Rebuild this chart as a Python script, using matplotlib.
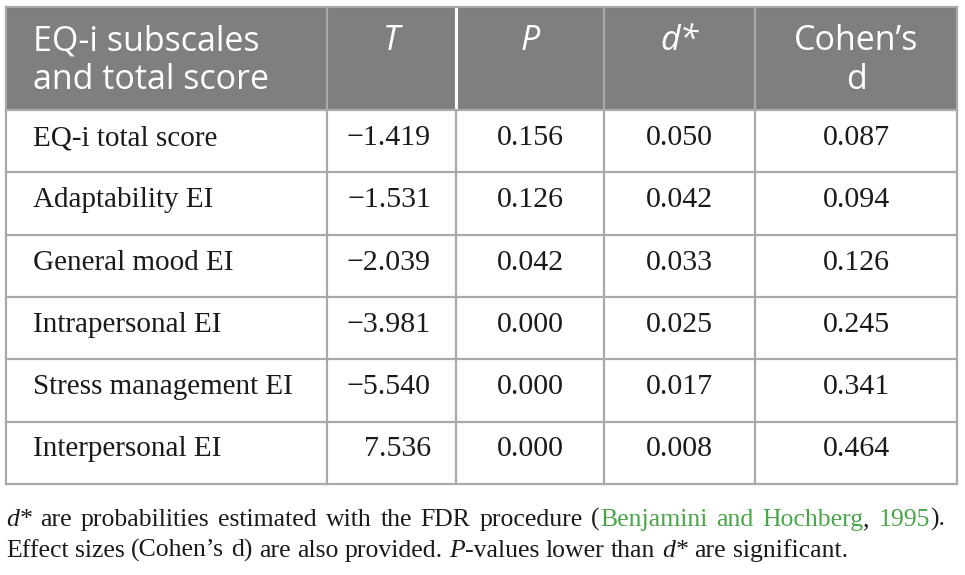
import re
import matplotlib
matplotlib.use("Agg")
import matplotlib.pyplot as plt
from matplotlib.patches import Rectangle

# table content
headers = [["EQ-i subscales", "and total score"], ["T"], ["P"], ["d*"], ["Cohen\u2019s", "d"]]
header_italic = [False, True, True, True, False]
subscales = ["EQ-i total score", "Adaptability EI", "General mood EI",
             "Intrapersonal EI", "Stress management EI", "Interpersonal EI"]
t_vals = [-1.419, -1.531, -2.039, -3.981, -5.540, 7.536]
p_vals = [0.156, 0.126, 0.042, 0.000, 0.000, 0.000]
d_star = [0.050, 0.042, 0.033, 0.025, 0.017, 0.008]
cohen_d = [0.087, 0.094, 0.126, 0.245, 0.341, 0.464]

# layout in pixels
W, H = 965, 575
col_x = [6, 327, 456, 604, 755, 957]
head_top, head_bot = 7, 110
row_h = 62.3
n_rows = len(subscales)

HEAD_BG = "#7f7f7f"
GRID = "#a9a9a9"
GREEN = "#4aa54a"
INK = "#1a1a1a"
SANS = ["Open Sans", "DejaVu Sans"]
SERIF = ["Liberation Serif", "DejaVu Serif"]

fig = plt.figure(figsize=(W / 100, H / 100), dpi=100)
ax = fig.add_axes([0, 0, 1, 1])
ax.set_xlim(0, W)
ax.set_ylim(H, 0)
ax.axis("off")

# header band
ax.add_patch(Rectangle((col_x[0], head_top), col_x[-1] - col_x[0], head_bot - head_top,
                       facecolor=HEAD_BG, edgecolor="none", zorder=1))
table_bot = head_bot + n_rows * row_h

# grid lines
for i, x in enumerate(col_x):
    if i == 2:
        ax.plot([x, x], [head_top, head_bot], color="white", lw=2.2, zorder=2)
        ax.plot([x, x], [head_bot, table_bot], color=GRID, lw=1.6, zorder=2)
    else:
        ax.plot([x, x], [head_top, table_bot], color=GRID, lw=1.6, zorder=2)
ax.plot([col_x[0], col_x[-1]], [head_top, head_top], color=GRID, lw=1.6, zorder=2)
for r in range(n_rows + 1):
    y = head_bot + r * row_h
    ax.plot([col_x[0], col_x[-1]], [y, y], color=GRID, lw=1.6, zorder=2)

# header text
for c, lines in enumerate(headers):
    style = "italic" if header_italic[c] else "normal"
    for k, line in enumerate(lines):
        y = 50 + k * 39
        if c == 0:
            ax.text(33, y, line, ha="left", va="baseline", color="white",
                    fontsize=24.5, family=SANS, style=style, zorder=3)
        else:
            xc = (col_x[c] + col_x[c + 1]) / 2
            ax.text(xc, y, line, ha="center", va="baseline", color="white",
                    fontsize=24.5, family=SANS, style=style, zorder=3)


def fmt(v):
    return f"{v:.3f}".replace("-", "\u2212")


# body text
for r in range(n_rows):
    y = head_bot + r * row_h + 35
    ax.text(33, y, subscales[r], ha="left", va="baseline", fontsize=21,
            family=SERIF, color=INK, zorder=3)
    ax.text(col_x[2] - 25, y, fmt(t_vals[r]), ha="right", va="baseline",
            fontsize=21.5, family=SERIF, color=INK, zorder=3)
    for c, vals in zip([2, 3, 4], [p_vals, d_star, cohen_d]):
        xc = (col_x[c] + col_x[c + 1]) / 2
        ax.text(xc, y, fmt(vals[r]), ha="center", va="baseline", fontsize=21.5,
                family=SERIF, color=INK, zorder=3)

# footnote, written as runs of differently styled text
fig.canvas.draw()
renderer = fig.canvas.get_renderer()


def width_of(txt, size, style):
    t = ax.text(0, 0, txt, fontsize=size, family=SERIF, style=style)
    w = t.get_window_extent(renderer=renderer).width
    t.remove()
    return w


def write_runs(x, y, runs, size, justify_to=None):
    pieces = []
    for txt, style, color in runs:
        for tok in re.split(r"( )", txt):
            if tok:
                pieces.append((tok, style, color))
    space_w = width_of("x x", size, "normal") - width_of("xx", size, "normal")
    widths = [space_w if p[0] == " " else width_of(p[0], size, p[1]) for p in pieces]
    extra = 0
    if justify_to is not None:
        n_sp = sum(1 for p in pieces if p[0] == " ")
        extra = max(0, (justify_to - x - sum(widths)) / n_sp)
    for (tok, style, color), w in zip(pieces, widths):
        if tok == " ":
            x += w + extra
            continue
        ax.text(x, y, tok, ha="left", va="baseline", fontsize=size,
                family=SERIF, style=style, color=color, zorder=3)
        x += w


note1 = [("d*", "italic", INK),
         (" are probabilities estimated with the FDR procedure (", "normal", INK),
         ("Benjamini and Hochberg", "normal", GREEN),
         (", ", "normal", INK),
         ("1995", "normal", GREEN),
         (").", "normal", INK)]
note2 = [("Effect sizes (Cohen\u2019s d) are also provided. ", "normal", INK),
         ("P", "italic", INK),
         ("-values lower than ", "normal", INK),
         ("d*", "italic", INK),
         (" are significant.", "normal", INK)]
write_runs(6, 526, note1, 18.5, justify_to=945)
write_runs(6, 557, note2, 18.5)

fig.savefig("out.png", dpi=100)
